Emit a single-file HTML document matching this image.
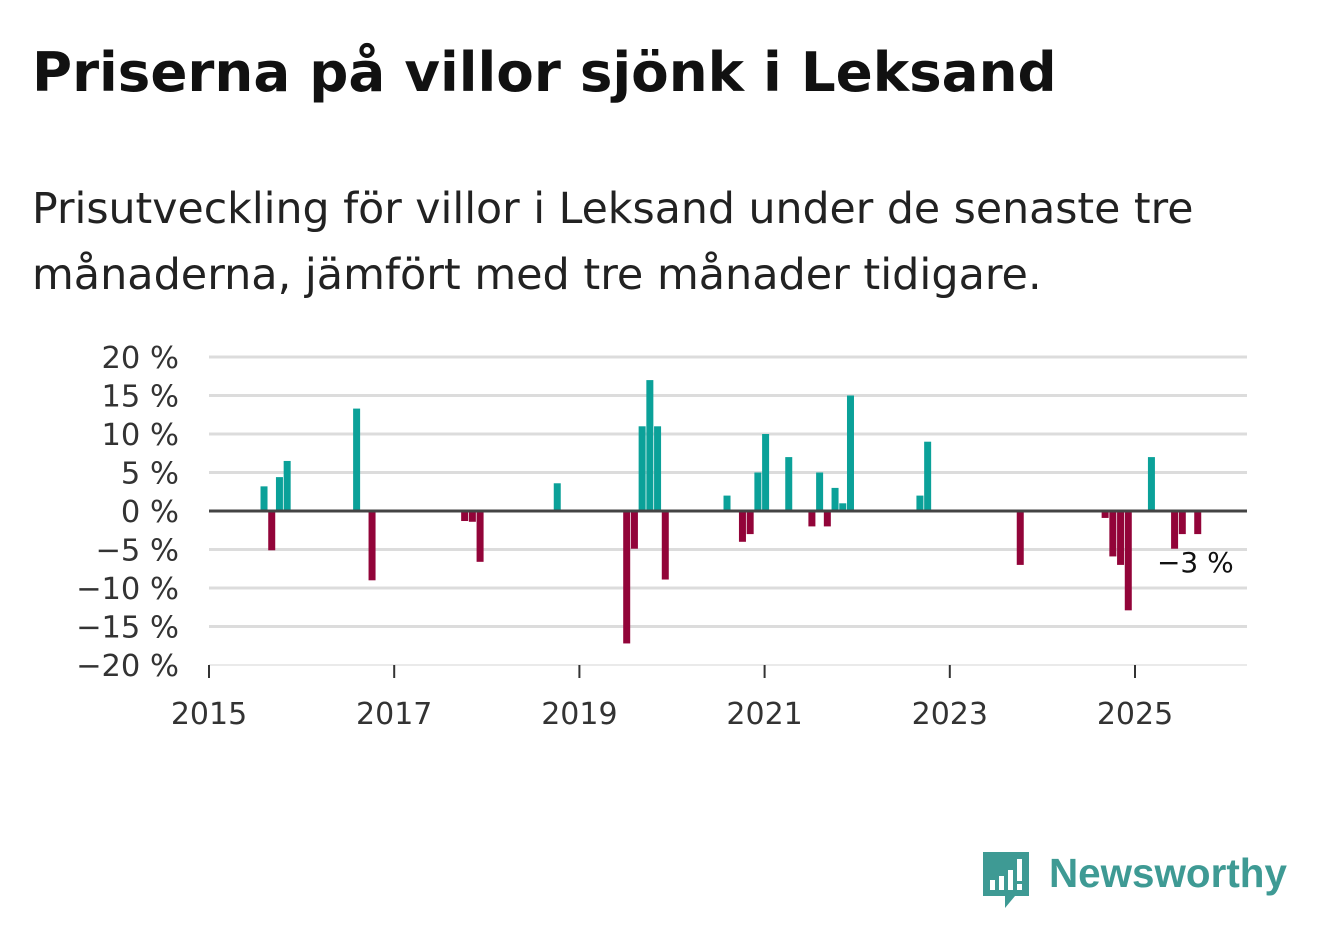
<!DOCTYPE html>
<html><head><meta charset="utf-8"><style>
body{margin:0;width:1322px;height:939px;background:#fff;overflow:hidden;font-family:"DejaVu Sans","Liberation Sans",sans-serif;}
.fit{position:absolute;left:32px;white-space:nowrap;margin:0}
#title{top:40px;font-size:50px;font-weight:bold;color:#111}
.sub{font-size:36px;color:#222}
#sub1{top:184px}
#sub2{top:250px}
svg{position:absolute;left:0;top:0}
</style></head><body>
<h1 id="title" class="fit" data-w="1025">Priserna på villor sjönk i Leksand</h1>
<div>
<div id="sub1" class="fit sub" data-w="1162">Prisutveckling för villor i Leksand under de senaste tre</div>
<div id="sub2" class="fit sub" data-w="1010">månaderna, jämfört med tre månader tidigare.</div>
</div>
<svg id="chart" width="1322" height="939"></svg>
<div style="position:absolute;left:981px;top:850px;width:310px;height:60px">
<svg width="50" height="60" style="position:absolute;left:0;top:0">
<path d="M2 2 H48 V46 H34 L24 58 V46 H2 Z" fill="#3e9a94"/>
<rect x="9" y="30" width="5" height="10" fill="#fff"/><rect x="18" y="26" width="5" height="14" fill="#fff"/><rect x="27" y="20" width="5" height="20" fill="#fff"/><rect x="36" y="9" width="5" height="22" fill="#fff"/><rect x="36" y="34" width="5" height="6" fill="#fff"/>
</svg>
<span id="logo" class="fit" data-w="238" style="left:68px;top:0px;font-size:40px;color:#3e9a94;font-weight:bold;font-family:'Liberation Sans',sans-serif">Newsworthy</span>
</div>
<script>
const months=["2015-08","2015-09","2015-10","2015-11","2016-08","2016-10","2017-10","2017-11","2017-12","2018-10","2019-07","2019-08","2019-09","2019-10","2019-11","2019-12","2020-08","2020-10","2020-11","2020-12","2021-01","2021-04","2021-07","2021-08","2021-09","2021-10","2021-11","2021-12","2022-09","2022-10","2023-10","2024-09","2024-10","2024-11","2024-12","2025-03","2025-06","2025-07","2025-09"];
const values=[3.2,-5.1,4.4,6.5,13.3,-9,-1.3,-1.4,-6.6,3.6,-17.2,-4.9,11,17,11,-8.9,2,-4,-3,5,10,7,-2,5,-2,3,1,15,2,9,-7,-0.9,-5.9,-7,-12.9,7,-4.9,-3,-3];
const yTicks=[20,15,10,5,0,-5,-10,-15,-20];
const xTicks=[2015,2017,2019,2021,2023,2025];
const lastLabel="−3 %";
document.querySelectorAll('.fit').forEach(e=>{
 const w=+e.dataset.w;const fs=parseFloat(getComputedStyle(e).fontSize);
 e.style.fontSize=(fs*w/e.getBoundingClientRect().width)+'px';
});
const NS="http://www.w3.org/2000/svg";
const svg=document.getElementById('chart');
const X0=209,X1=1247,Y0=511,PX=7.7;
const FF='DejaVu Sans, Liberation Sans, sans-serif';
const x=(yr)=>X0+(yr-2015)*92.6;
const xm=(s)=>{const p=s.split('-');return x(+p[0]+(+p[1]-1)/12);};
const y=(v)=>Y0-v*PX;
function el(t,a){const e=document.createElementNS(NS,t);for(const k in a)e.setAttribute(k,a[k]);svg.appendChild(e);return e;}
yTicks.forEach(v=>{
 if(v!==0&&v!==-20){const g=el('line',{x1:X0,x2:X1,y1:y(v),y2:y(v),stroke:'#dcdcdc','stroke-width':3});
 
 }
 const t=el('text',{x:179,y:y(v)+11,'text-anchor':'end','font-size':30.5,fill:'#333','font-family':FF});
 t.textContent=(v<0?'−'+(-v):v)+' %';
 
 
});
const ax=el('line',{x1:X0,x2:X1,y1:y(-20),y2:y(-20),stroke:'#e4e4e4','stroke-width':1.5});


xTicks.forEach(yr=>{
 const tk=el('line',{x1:x(yr),x2:x(yr),y1:665,y2:678,stroke:'#333','stroke-width':2});
 
 
 const t=el('text',{x:x(yr),y:724,'text-anchor':'middle','font-size':30,fill:'#333','font-family':FF});
 t.textContent=yr;
 
 
});
months.forEach((m,i)=>{
 const v=values[i];const cx=xm(m)+1;
 const r=el('rect',{x:cx-3.5,width:7,y:Math.min(y(v),Y0),height:Math.abs(y(v)-Y0),fill:v>=0?'#0ba199':'#920439'});
 
 
});
const z=el('line',{x1:X0,x2:X1,y1:Y0,y2:Y0,stroke:'#444','stroke-width':3});


const lm=months[months.length-1];
const lbl=el('text',{x:xm(lm)+37,y:y(values[values.length-1])+38,'text-anchor':'end','font-size':28,fill:'#111','font-family':FF});
lbl.textContent=lastLabel;


</script>
</body></html>
